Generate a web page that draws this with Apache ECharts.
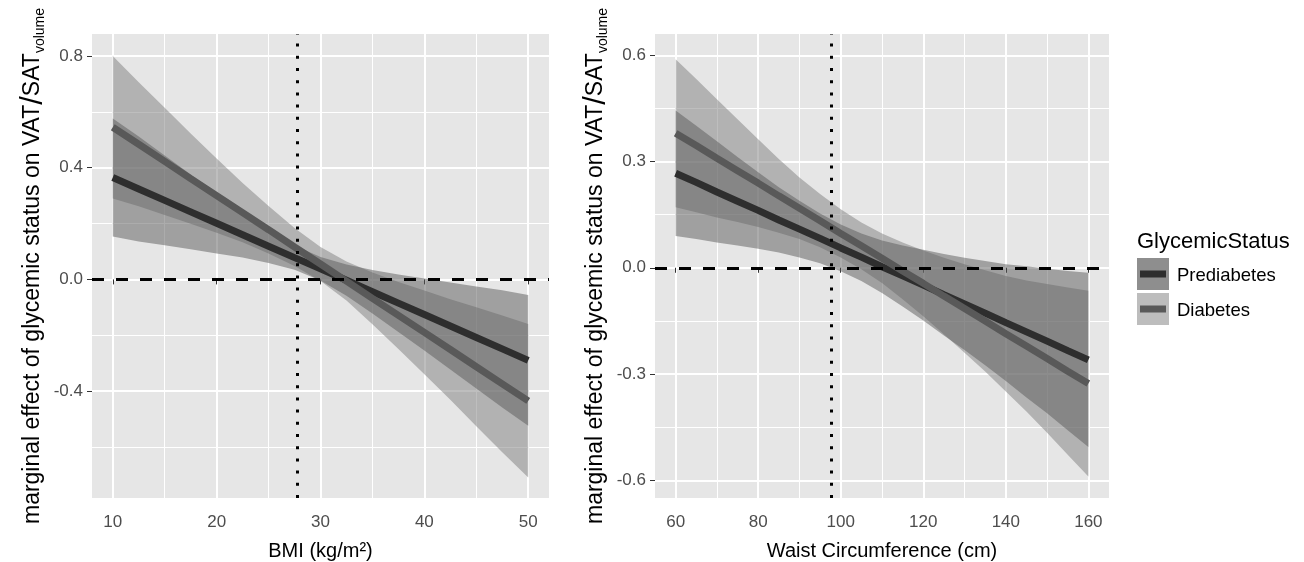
<!DOCTYPE html>
<html lang="en">
<head>
    <meta charset="UTF-8">
    <script src="https://cdn.jsdelivr.net/npm/echarts@6/dist/echarts.min.js"></script>
</head>
<style>
    body {
        margin: 0;
        background: #fff;
    }
</style>
<body>

<div id="main" style="width:1304px;height:562px;"></div>

<script type="text/javascript">

    // ---- left panel: BMI ----
    const bmiX = [10, 12.5, 15, 17.5, 20, 22.5, 25, 27.5, 30, 32.5, 35, 37.5, 40, 42.5, 45, 47.5, 50];
    const bmiPreFit = [0.365, 0.324, 0.283, 0.242, 0.201, 0.160, 0.119, 0.078, 0.038, -0.003, -0.044, -0.085, -0.126, -0.167, -0.208, -0.249, -0.290];
    const bmiPreLo = [0.154, 0.136, 0.122, 0.108, 0.093, 0.078, 0.059, 0.035, -0.004, -0.059, -0.122, -0.188, -0.255, -0.323, -0.391, -0.459, -0.524];
    const bmiPreHi = [0.576, 0.512, 0.444, 0.376, 0.309, 0.242, 0.179, 0.121, 0.080, 0.053, 0.034, 0.018, 0.003, -0.011, -0.025, -0.039, -0.056];
    const bmiDiaFit = [0.545, 0.484, 0.423, 0.361, 0.300, 0.239, 0.178, 0.116, 0.055, -0.006, -0.068, -0.129, -0.190, -0.251, -0.313, -0.374, -0.435];
    const bmiDiaLo = [0.290, 0.262, 0.231, 0.199, 0.167, 0.133, 0.093, 0.048, -0.006, -0.076, -0.161, -0.249, -0.340, -0.431, -0.526, -0.619, -0.710];
    const bmiDiaHi = [0.800, 0.706, 0.615, 0.523, 0.433, 0.345, 0.263, 0.184, 0.116, 0.064, 0.025, -0.009, -0.040, -0.071, -0.100, -0.129, -0.160];
    const bmiTicks = [10, 20, 30, 40, 50];
    const bmiMinor = [15, 25, 35, 45];
    const bmiYTicks = [-0.4, 0, 0.4, 0.8];
    const bmiYMinor = [-0.6, -0.2, 0.2, 0.6];
    const bmiRef = 27.8;

    // ---- right panel: waist circumference ----
    const waistX = [60, 65, 70, 75, 80, 85, 90, 95, 100, 105, 110, 115, 120, 125, 130, 135, 140, 145, 150, 155, 160];
    const waistPreFit = [0.267, 0.241, 0.214, 0.188, 0.162, 0.135, 0.109, 0.083, 0.056, 0.030, 0.003, -0.023, -0.049, -0.076, -0.102, -0.128, -0.155, -0.181, -0.207, -0.234, -0.260];
    const waistPreLo = [0.090, 0.081, 0.071, 0.063, 0.054, 0.043, 0.029, 0.013, -0.010, -0.037, -0.071, -0.109, -0.149, -0.191, -0.232, -0.275, -0.320, -0.366, -0.411, -0.459, -0.506];
    const waistPreHi = [0.444, 0.401, 0.357, 0.313, 0.270, 0.227, 0.189, 0.153, 0.122, 0.097, 0.077, 0.063, 0.051, 0.039, 0.028, 0.019, 0.010, 0.004, -0.003, -0.009, -0.014];
    const waistDiaFit = [0.380, 0.345, 0.309, 0.274, 0.239, 0.203, 0.168, 0.133, 0.097, 0.062, 0.027, -0.009, -0.044, -0.080, -0.115, -0.150, -0.186, -0.221, -0.256, -0.292, -0.327];
    const waistDiaLo = [0.171, 0.157, 0.142, 0.129, 0.115, 0.099, 0.081, 0.058, 0.029, -0.004, -0.043, -0.089, -0.137, -0.188, -0.240, -0.293, -0.349, -0.406, -0.466, -0.528, -0.589];
    const waistDiaHi = [0.589, 0.533, 0.476, 0.419, 0.363, 0.307, 0.255, 0.208, 0.165, 0.128, 0.097, 0.071, 0.049, 0.028, 0.010, -0.007, -0.023, -0.036, -0.046, -0.056, -0.065];
    const waistTicks = [60, 80, 100, 120, 140, 160];
    const waistMinor = [70, 90, 110, 130, 150];
    const waistYTicks = [-0.6, -0.3, 0, 0.3, 0.6];
    const waistYMinor = [-0.45, -0.15, 0.15, 0.45];
    const waistRef = 97.7;

    const font = '"Liberation Sans", Arial, sans-serif';
    const yTitle = '{t|marginal effect of glycemic status on VAT}{s|/}{t|SAT}{v|volume}';

    function mainAxis(grid, min, max, ticks, isY, title) {
        let ax = {
            type: 'value', gridIndex: grid, min: min, max: max,
            axisLine: {show: false},
            axisTick: {show: true, length: 5, customValues: ticks, lineStyle: {color: '#333', width: 1}},
            axisLabel: {
                customValues: ticks, color: '#4d4d4d', fontSize: 17, fontFamily: font,
                margin: isY ? 9 : 16,
                formatter: isY ? function (v) { return v.toFixed(1); } : function (v) { return String(v); }
            },
            splitLine: {show: true, lineStyle: {color: '#fff', width: 2}},
            name: title, nameLocation: 'middle', nameMoveOverlap: false
        };
        if (isY) {
            ax.nameRotate = 90;
            ax.nameGap = 45;
            ax.nameTextStyle = {
                fontFamily: font, color: '#000',
                rich: {
                    t: {fontSize: 23, fontFamily: font, color: '#000', lineHeight: 28},
                    s: {fontSize: 31, fontFamily: font, color: '#000', lineHeight: 28},
                    v: {fontSize: 14, fontFamily: font, color: '#000', lineHeight: 15, verticalAlign: 'bottom'}
                }
            };
        } else {
            ax.nameGap = 43;
            ax.nameTextStyle = {fontSize: 20, fontFamily: font, color: '#000'};
        }
        return ax;
    }

    function minorAxis(grid, min, max, ticks) {
        return {
            type: 'value', gridIndex: grid, min: min, max: max,
            axisLine: {show: false},
            axisTick: {show: false, customValues: ticks},
            axisLabel: {show: false, customValues: ticks},
            splitLine: {show: true, lineStyle: {color: '#fff', width: 1}}
        };
    }

    function pairs(x, y) {
        return x.map(function (v, i) { return [v, y[i]]; });
    }

    // confidence band as one polygon: upper edge forward, lower edge back
    function band(x, lo, hi, color, ax) {
        const rows = x.map(function (v, i) { return [v, lo[i], hi[i]]; });
        return {
            type: 'custom', xAxisIndex: ax, yAxisIndex: ax, data: rows, silent: true, z: 2,
            encode: {x: 0, y: [1, 2]},
            renderItem: function (params, api) {
                if (params.dataIndex !== 0) return null;
                const top = rows.map(function (r) { return api.coord([r[0], r[2]]); });
                const bottom = rows.slice().reverse().map(function (r) { return api.coord([r[0], r[1]]); });
                return {
                    type: 'polygon',
                    shape: {points: top.concat(bottom)},
                    style: {fill: color, opacity: 0.5}
                };
            }
        };
    }

    function fit(x, y, color, ax) {
        return {
            type: 'line', xAxisIndex: ax, yAxisIndex: ax, data: pairs(x, y),
            symbol: 'none', silent: true, z: 3,
            lineStyle: {color: color, width: 7}
        };
    }

    function refLines(ax, xv) {
        return {
            type: 'line', xAxisIndex: ax, yAxisIndex: ax, data: [], silent: true,
            markLine: {
                silent: true, symbol: ['none', 'none'], label: {show: false},
                emphasis: {disabled: true},
                data: [
                    {yAxis: 0, lineStyle: {type: [12, 12], width: 3, color: '#000'}},
                    {xAxis: xv, lineStyle: {type: [3, 9.2], width: 3, color: '#000'}}
                ]
            }
        };
    }

    const preBand = '#5a5a5a';
    const diaBand = '#7e7e7e';
    const preLine = '#2e2e2e';
    const diaLine = '#595959';

    let myEcharts = echarts.init(document.getElementById('main'));

    let option = {
        animation: false,
        backgroundColor: '#fff',
        textStyle: {fontFamily: font},
        grid: [
            {left: 92, top: 34, width: 457, height: 464, show: true, backgroundColor: '#e6e6e6', borderWidth: 0,
                containLabel: false, outerBoundsMode: 'none'},
            {left: 655, top: 34, width: 454, height: 464, show: true, backgroundColor: '#e6e6e6', borderWidth: 0,
                containLabel: false, outerBoundsMode: 'none'}
        ],
        xAxis: [
            mainAxis(0, 8, 52, bmiTicks, false, 'BMI (kg/m²)'),
            minorAxis(0, 8, 52, bmiMinor),
            mainAxis(1, 55, 165, waistTicks, false, 'Waist Circumference (cm)'),
            minorAxis(1, 55, 165, waistMinor)
        ],
        yAxis: [
            mainAxis(0, -0.783, 0.879, bmiYTicks, true, yTitle),
            minorAxis(0, -0.783, 0.879, bmiYMinor),
            mainAxis(1, -0.65, 0.66, waistYTicks, true, yTitle),
            minorAxis(1, -0.65, 0.66, waistYMinor)
        ],
        series: [
            band(bmiX, bmiDiaLo, bmiDiaHi, diaBand, 0),
            band(bmiX, bmiPreLo, bmiPreHi, preBand, 0),
            fit(bmiX, bmiPreFit, preLine, 0),
            fit(bmiX, bmiDiaFit, diaLine, 0),
            refLines(0, bmiRef),
            band(waistX, waistDiaLo, waistDiaHi, diaBand, 2),
            band(waistX, waistPreLo, waistPreHi, preBand, 2),
            fit(waistX, waistPreFit, preLine, 2),
            fit(waistX, waistDiaFit, diaLine, 2),
            refLines(2, waistRef)
        ],
        graphic: [
            {type: 'text', x: 1137, y: 242, style: {text: 'GlycemicStatus', fontSize: 22, fontFamily: font, fill: '#000', verticalAlign: 'middle'}},
            {type: 'rect', shape: {x: 1137, y: 258, width: 32, height: 32}, style: {fill: '#8e8e8e'}},
            {type: 'line', shape: {x1: 1140, y1: 274, x2: 1166, y2: 274}, style: {stroke: preLine, lineWidth: 7}},
            {type: 'rect', shape: {x: 1137, y: 293, width: 32, height: 32}, style: {fill: '#bdbdbd'}},
            {type: 'line', shape: {x1: 1140, y1: 309, x2: 1166, y2: 309}, style: {stroke: diaLine, lineWidth: 7}},
            {type: 'text', x: 1177, y: 276, style: {text: 'Prediabetes', fontSize: 18.5, fontFamily: font, fill: '#000', verticalAlign: 'middle'}},
            {type: 'text', x: 1177, y: 311, style: {text: 'Diabetes', fontSize: 18.5, fontFamily: font, fill: '#000', verticalAlign: 'middle'}}
        ]
    };

    myEcharts.setOption(option);

</script>
</body>
</html>
